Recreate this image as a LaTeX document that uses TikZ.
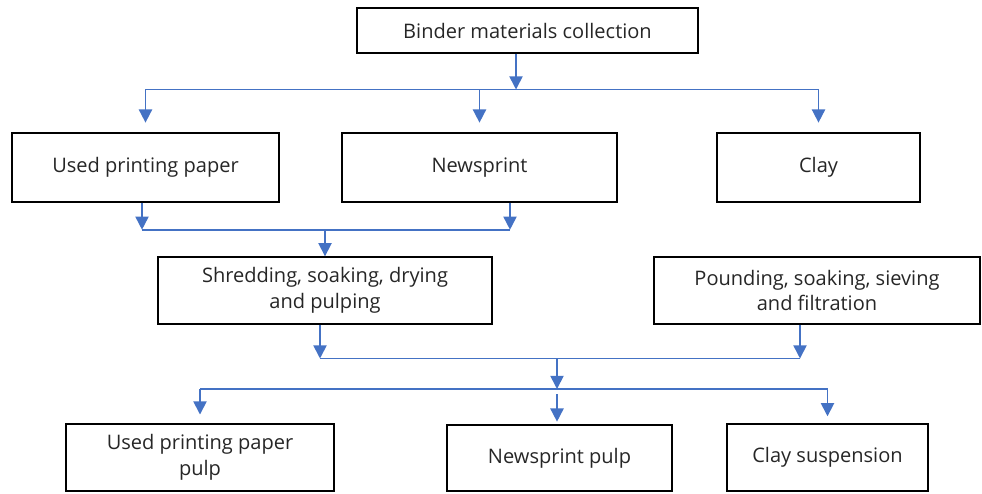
\documentclass[tikz,border=0pt]{standalone}
\usepackage{fontspec}
\setmainfont{Open Sans}
\usetikzlibrary{arrows.meta}
\definecolor{flowblue}{RGB}{68,114,196}
\tikzset{
  box/.style={draw=black,line width=0.8pt,align=center,inner sep=0pt,
    text=black!85,font=\fontsize{11.4}{14.7}\selectfont},
  flow/.style={draw=flowblue,line width=0.95pt},
  arr/.style={flow,-{Triangle[width=7.5pt,length=7.5pt]}}
}
\begin{document}
\begin{tikzpicture}[x=0.02cm,y=-0.02cm]
\useasboundingbox (0,0) rectangle (982,493);
% 顶部：原料收集
\node[box,minimum width=6.82cm,minimum height=0.9cm] (binder) at (527.5,30.5) {Binder materials collection};
% 第二层：三种原料
\node[box,minimum width=5.34cm,minimum height=1.38cm] (paper) at (145.5,167.5) {Used printing paper};
\node[box,minimum width=5.5cm,minimum height=1.38cm] (news) at (479.5,167.5) {Newsprint};
\node[box,minimum width=4.06cm,minimum height=1.38cm] (clay) at (818.5,167.5) {Clay};
% 第三层：处理工序
\node[box,minimum width=6.68cm,minimum height=1.34cm] (shred) at (325,290.5) {Shredding, soaking, drying\\and pulping};
\node[box,minimum width=6.52cm,minimum height=1.34cm] (pound) at (817,290.5) {Pounding, soaking, sieving\\and filtration};
% 底层：产物
\node[box,minimum width=5.36cm,minimum height=1.34cm] (paperpulp) at (200,457.5) {Used printing paper\\pulp};
\node[box,minimum width=4.5cm,minimum height=1.32cm] (newspulp) at (559.5,458) {Newsprint pulp};
\node[box,minimum width=4.02cm,minimum height=1.34cm] (claysusp) at (827.5,457.5) {Clay suspension};
% 第一组分支线
\coordinate (bus1) at (516,89.5);
\draw[arr] (binder.south -| bus1) -- (bus1);
\draw[flow] (paper.north |- bus1) -- (clay.north |- bus1);
\foreach \n in {paper,news,clay}{
  \draw[arr,shorten >=5.5pt] (\n.north |- bus1) -- (\n.north);
}
% 纸类汇合
\coordinate (pjoin) at (142,229.7);
\coordinate (njoin) at (510,229.7);
\draw[arr] (pjoin |- paper.south) -- (pjoin);
\draw[arr] (njoin |- news.south) -- (njoin);
\draw[flow] (pjoin) -- (njoin);
\draw[arr] (shred.north |- pjoin) -- (shred.north);
% 工序汇合
\coordinate (sjoin) at (320,358.5);
\coordinate (cjoin) at (800,358.5);
\draw[arr] (sjoin |- shred.south) -- (sjoin);
\draw[arr] (cjoin |- pound.south) -- (cjoin);
\draw[flow] (sjoin) -- (cjoin);
\coordinate (bus2) at (557,389);
\draw[arr] (bus2 |- sjoin) -- (bus2);
% 第二组分支线
\draw[flow] (paperpulp.north |- bus2) -- (claysusp.north |- bus2);
\draw[arr,shorten >=5pt] (paperpulp.north |- bus2) -- (paperpulp.north);
\draw[arr,shorten >=4pt] (claysusp.north |- bus2) -- (claysusp.north);
\draw[arr,shorten >=1.5pt] ([yshift=-0.1cm]bus2) -- (newspulp.north -| bus2);
\end{tikzpicture}
\end{document}
